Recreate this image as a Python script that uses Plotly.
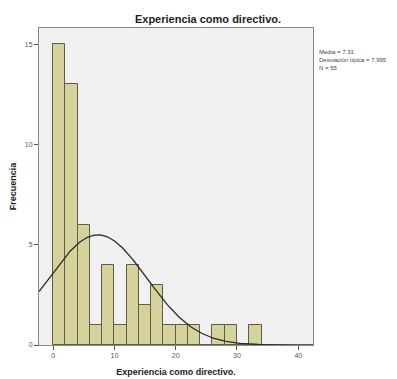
import numpy as np
import plotly.graph_objects as go

# Data
bin_starts = [0, 2, 4, 6, 8, 10, 12, 14, 16, 18, 20, 22, 24, 26, 28, 30, 32]
counts = [15, 13, 6, 1, 4, 1, 4, 2, 3, 1, 1, 1, 0, 1, 1, 0, 1]
bin_width = 2
mean_val = 7.31
sd_val = 7.995
n_val = 55
x_ticks = [0, 10, 20, 30, 40]
y_ticks = [0, 5, 10, 15]

centers = [b + bin_width / 2 for b in bin_starts]

# Fitted normal curve (as drawn by the original software)
xs = np.linspace(-2.3, 42.4, 300)
ys = n_val * bin_width / (sd_val * np.sqrt(2 * np.pi)) * np.exp(-0.5 * ((xs - mean_val) / sd_val) ** 2)

fig = go.Figure()
fig.add_trace(go.Bar(
    x=centers, y=counts, width=bin_width,
    marker=dict(color="#D6D29B", line=dict(color="#5E5C45", width=1)),
    showlegend=False,
))
fig.add_trace(go.Scatter(
    x=xs, y=ys, mode="lines",
    line=dict(color="#2B2B2B", width=1.3),
    showlegend=False,
))

W, H = 397, 379
L, R, T, B = 31, 92, 20, 42
plot_h = H - T - B

fig.update_layout(
    width=W, height=H,
    margin=dict(l=L, r=R, t=T, b=B),
    paper_bgcolor="white",
    plot_bgcolor="#F0F0F0",
    font=dict(family="Liberation Sans, Arial, sans-serif", color="#333"),
    title=dict(text="<b>Experiencia como directivo.</b>", x=200 / W, xanchor="center",
               y=1 - 11 / H, yanchor="middle", font=dict(size=11, color="#222")),
    bargap=0,
    xaxis=dict(
        range=[-2.3, 42.4], tickvals=x_ticks, ticks="outside", ticklen=4,
        tickcolor="#555", showgrid=False, zeroline=False, automargin=False,
        showline=True, linecolor="#888", linewidth=1, mirror=True,
        tickfont=dict(size=7, color="#555"),
        title=dict(text="<b>Experiencia como directivo.</b>", font=dict(size=9, color="#222"), standoff=10),
    ),
    yaxis=dict(
        range=[0, 15.8], tickvals=y_ticks, ticks="outside", ticklen=4,
        tickcolor="#555", showgrid=False, zeroline=False, automargin=False,
        showline=True, linecolor="#888", linewidth=1, mirror=True,
        tickfont=dict(size=7, color="#555"),
        title=dict(text="<b>Frecuencia</b>", font=dict(size=9, color="#222"), standoff=6),
    ),
    annotations=[dict(
        text="Media = 7,31<br>Desviación típica = 7,995<br>N = 55",
        xref="paper", yref="paper", x=(309 - L) / (W - L - R), y=1 - (39 - T) / plot_h,
        xanchor="left", yanchor="top", align="left", showarrow=False,
        font=dict(size=6, color="#444", family="Liberation Sans Narrow, Arial Narrow, sans-serif"),
    )],
)

fig.write_html("out.html")
